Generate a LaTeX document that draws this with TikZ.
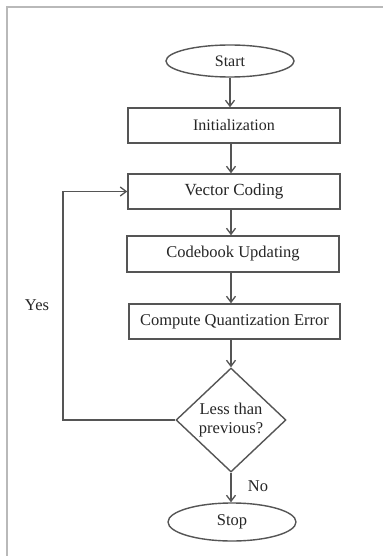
\documentclass[tikz,border=0pt]{standalone}
\usepackage{fontspec}
\setmainfont{Liberation Serif}
\usetikzlibrary{shapes.geometric,arrows.meta}
\definecolor{ln}{HTML}{555555}
\definecolor{tx}{HTML}{262626}
\begin{document}
\begin{tikzpicture}[x=1pt,y=-1pt,
  every node/.style={text=tx,font=\fontsize{16.5}{19}\selectfont},
  boxstyle/.style={draw=ln,line width=1.4pt,rectangle,minimum width=212pt,minimum height=35pt,inner sep=0pt},
  ovalstyle/.style={draw=ln,line width=1.4pt,ellipse,minimum width=128pt,inner sep=0pt},
  arr/.style={draw=ln,line width=1.4pt,-{Straight Barb[length=6pt,width=9pt,line width=1.3pt]}}]
\useasboundingbox (0,0) rectangle (383,556);
\fill[white] (0,0) rectangle (383,556);
\draw[gray!55,line width=1.2pt] (7,556) -- (7,7) -- (383,7);
\node[ovalstyle,minimum height=32pt,font=\fontsize{16}{19}\selectfont] (start) at (230,61) {Start};
\node[boxstyle,font=\fontsize{16}{19}\selectfont] (init) at (234,125.5) {Initialization};
\node[boxstyle,font=\fontsize{17}{19}\selectfont] (vc) at (234,191.5) {Vector Coding};
\node[boxstyle,minimum height=36pt] (cu) at (233,254) {Codebook Updating};
\node[boxstyle,minimum width=211pt] (cq) at (234.5,321.5) {Compute Quantization Error};
\node[draw=ln,line width=1.4pt,diamond,minimum width=110pt,minimum height=104pt,inner sep=0pt,align=center] (dec) at (231,420) {Less than\\previous?};
\node[ovalstyle,minimum height=38pt] (stop) at (232,522) {Stop};
\coordinate (lc) at (63,0);
\draw[arr] (start.south) -- (start.south |- init.north);
\draw[arr] (dec.north |- init.south) -- (dec.north |- vc.north);
\draw[arr] (dec.north |- vc.south) -- (dec.north |- cu.north);
\draw[arr] (dec.north |- cu.south) -- (dec.north |- cq.north);
\draw[arr] (dec.north |- cq.south) -- (dec.north);
\draw[arr] (dec.south) -- (dec.south |- stop.north);
\draw[arr] (dec.west) -- (dec.west -| lc) |- (vc.west);
\node (yes) at (37,305) {Yes};
\node (no) at (258,486) {No};
\end{tikzpicture}
\end{document}
